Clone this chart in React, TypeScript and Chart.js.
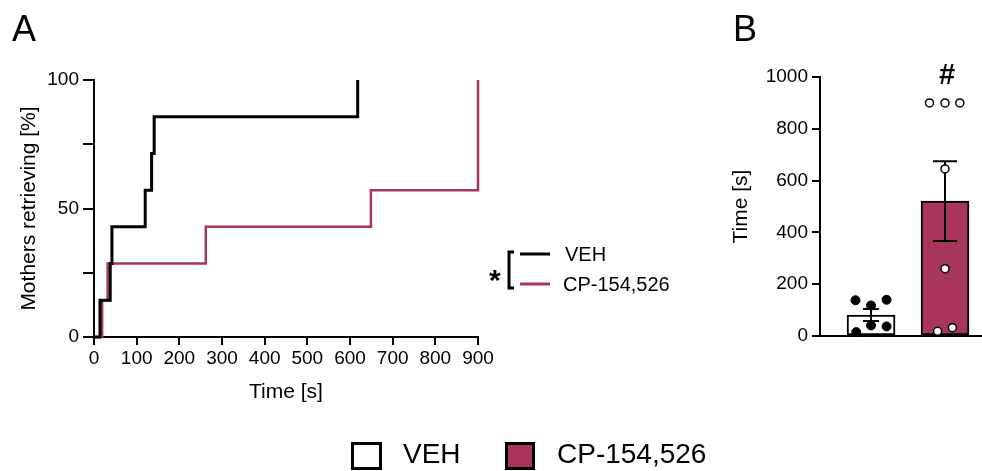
import React, { useEffect, useRef } from "react";
import { Chart, registerables } from "chart.js";

Chart.register(...registerables);

const FONT = "'Liberation Sans', Arial, Helvetica, sans-serif";
const CRIMSON = "#A8355E";

// ---------- Panel A: cumulative % of mothers retrieving ----------
const vehTimes = [0, 14, 38, 42, 120, 135, 141, 618];
const vehPercent = [0, 14.29, 28.57, 42.86, 57.14, 71.43, 85.71, 100];
const cpTimes = [0, 19, 32, 262, 649, 900];
const cpPercent = [0, 14.29, 28.57, 42.86, 57.14, 100];
const timeTicks = [0, 100, 200, 300, 400, 500, 600, 700, 800, 900];
const percentTicks = [0, 25, 50, 75, 100];
const percentLabels = ["0", "", "50", "", "100"];

// ---------- Panel B: retrieval time per group ----------
const groups = ["VEH", "CP-154,526"];
const groupMeans = [81, 521];
const groupSems = [23, 154];
const vehDotX = [-0.21, 0, 0.21, -0.2, 0, 0.21];
const vehDotY = [138, 118, 140, 15, 41, 37];
const cpDotX = [0.79, 1, 1.2, 1, 1, 0.9, 1.1];
const cpDotY = [900, 900, 900, 645, 260, 18, 32];
const timeBTicks = [0, 200, 400, 600, 800, 1000];
const timeBLabels = ["0", "200", "400", "600", "800", "1000"];

const errorBarPlugin = {
  id: "errorBars",
  afterDatasetDraw(chart: any, args: any) {
    if (args.index !== 0) return;
    const { ctx } = chart;
    const x = chart.scales.x;
    const y = chart.scales.y;
    const caps = [16, 24];
    ctx.save();
    ctx.strokeStyle = "#000";
    ctx.lineWidth = 2;
    groupMeans.forEach((m, i) => {
      const px = x.getPixelForValue(i);
      const top = y.getPixelForValue(m + groupSems[i]);
      const bot = y.getPixelForValue(m - groupSems[i]);
      const h = caps[i] / 2;
      ctx.beginPath();
      ctx.moveTo(px, top);
      ctx.lineTo(px, bot);
      ctx.moveTo(px - h, top);
      ctx.lineTo(px + h, top);
      ctx.moveTo(px - h, bot);
      ctx.lineTo(px + h, bot);
      ctx.stroke();
    });
    ctx.restore();
  },
};

export default function App() {
  const refA = useRef<HTMLCanvasElement>(null);
  const refB = useRef<HTMLCanvasElement>(null);

  useEffect(() => {
    const tickFont = { family: FONT, size: 19 };
    const titleFont = { family: FONT, size: 21 };

    const chartA = new Chart(refA.current as HTMLCanvasElement, {
      type: "line",
      data: {
        datasets: [
          {
            label: groups[0],
            data: vehTimes.map((t, i) => ({ x: t, y: vehPercent[i] })),
            borderColor: "#000",
            borderWidth: 3,
            stepped: true,
            pointRadius: 0,
            fill: false,
            clip: false as any,
          },
          {
            label: groups[1],
            data: cpTimes.map((t, i) => ({ x: t, y: cpPercent[i] })),
            borderColor: CRIMSON,
            borderWidth: 2.5,
            stepped: true,
            pointRadius: 0,
            fill: false,
            clip: false as any,
          },
        ],
      },
      options: {
        animation: false,
        responsive: false,
        layout: { autoPadding: false, padding: { left: 0, top: 80, right: 62, bottom: 0 } },
        plugins: { legend: { display: false }, tooltip: { enabled: false } },
        scales: {
          x: {
            type: "linear",
            min: 0,
            max: 900,
            afterBuildTicks: (s: any) => {
              s.ticks = timeTicks.map((v) => ({ value: v }));
            },
            grid: { drawOnChartArea: false, drawTicks: true, tickLength: 8, color: "#000", lineWidth: 2 },
            border: { color: "#000", width: 2 },
            ticks: { color: "#000", font: tickFont, padding: 2, maxRotation: 0, autoSkip: false },
            title: { display: true, text: "Time [s]", color: "#000", font: titleFont, padding: { top: 0, bottom: 15 } },
            afterFit: (s: any) => {
              s.height = 83;
            },
          },
          y: {
            type: "linear",
            min: 0,
            max: 100,
            afterBuildTicks: (s: any) => {
              s.ticks = percentTicks.map((v) => ({ value: v }));
            },
            grid: { drawOnChartArea: false, drawTicks: true, tickLength: 11, color: "#000", lineWidth: 2 },
            border: { color: "#000", width: 2 },
            ticks: {
              color: "#000",
              font: tickFont,
              padding: 4,
              autoSkip: false,
              callback: (_v: any, i: number) => percentLabels[i],
            },
            title: { display: true, text: "Mothers retrieving [%]", color: "#000", font: titleFont, padding: { top: 17, bottom: 0 } },
            afterFit: (s: any) => {
              s.width = 94;
            },
          },
        },
      },
    });

    const chartB = new Chart(refB.current as HTMLCanvasElement, {
      type: "bar",
      data: {
        datasets: [
          {
            type: "bar",
            label: "mean",
            data: groupMeans.map((m, i) => ({ x: i, y: m })) as any,
            backgroundColor: ["#ffffff", CRIMSON],
            borderColor: "#000",
            borderWidth: 2,
            borderSkipped: false,
            barThickness: 48,
            order: 2,
          } as any,
          {
            type: "scatter",
            label: groups[0],
            data: vehDotX.map((x, i) => ({ x, y: vehDotY[i] })),
            pointRadius: 4.5,
            pointBackgroundColor: "#000",
            pointBorderColor: "#000",
            pointBorderWidth: 1,
            order: 1,
            clip: false as any,
          } as any,
          {
            type: "scatter",
            label: groups[1],
            data: cpDotX.map((x, i) => ({ x, y: cpDotY[i] })),
            pointRadius: 4,
            pointBackgroundColor: "#fff",
            pointBorderColor: "#000",
            pointBorderWidth: 1.5,
            order: 1,
            clip: false as any,
          } as any,
        ],
      },
      options: {
        animation: false,
        responsive: false,
        layout: { autoPadding: false, padding: { left: 0, top: 77, right: 0, bottom: 0 } },
        plugins: { legend: { display: false }, tooltip: { enabled: false } },
        scales: {
          x: {
            type: "linear",
            min: -0.69,
            max: 1.5,
            offset: false,
            ticks: { display: false },
            grid: { display: false },
            border: { color: "#000", width: 2 },
            afterFit: (s: any) => {
              s.height = 84;
            },
          },
          y: {
            type: "linear",
            min: 0,
            max: 1000,
            afterBuildTicks: (s: any) => {
              s.ticks = timeBTicks.map((v) => ({ value: v }));
            },
            grid: { drawOnChartArea: false, drawTicks: true, tickLength: 8, color: "#000", lineWidth: 2 },
            border: { color: "#000", width: 2 },
            ticks: {
              color: "#000",
              font: tickFont,
              padding: 4,
              autoSkip: false,
              callback: (_v: any, i: number) => timeBLabels[i],
            },
            title: { display: true, text: "Time [s]", color: "#000", font: titleFont, padding: { top: 29, bottom: 0 } },
            afterFit: (s: any) => {
              s.width = 120;
            },
          },
        },
      },
      plugins: [errorBarPlugin],
    });

    return () => {
      chartA.destroy();
      chartB.destroy();
    };
  }, []);

  return (
    <div
      style={{
        position: "fixed",
        left: 0,
        top: 0,
        width: 982,
        height: 471,
        background: "#fff",
        fontFamily: FONT,
        overflow: "hidden",
      }}
    >
      <canvas ref={refA} width={540} height={420} style={{ position: "absolute", left: 0, top: 0 }} />
      <canvas ref={refB} width={282} height={420} style={{ position: "absolute", left: 700, top: 0 }} />
      <svg
        width={982}
        height={471}
        style={{ position: "absolute", left: 0, top: 0, pointerEvents: "none" }}
        fontFamily={FONT}
      >
        <text x={12} y={41} fontSize={36} fill="#000">A</text>
        <text x={733} y={41} fontSize={36} fill="#000">B</text>
        <text x={947} y={84} fontSize={29} fontWeight="bold" textAnchor="middle" fill="#000">#</text>

        <text x={489} y={290} fontSize={30} fontWeight="bold" fill="#000">*</text>
        <path d="M514 252 L509 252 L509 288 L514 288" stroke="#000" strokeWidth={3} fill="none" />
        <line x1={520} y1={254} x2={550} y2={254} stroke="#000" strokeWidth={3} />
        <line x1={520} y1={284} x2={550} y2={284} stroke={CRIMSON} strokeWidth={3} />
        <text x={565} y={261} fontSize={20} fill="#000">{groups[0]}</text>
        <text x={563} y={291} fontSize={20} fill="#000">{groups[1]}</text>

        <rect x={352.5} y={443.5} width={28} height={25} stroke="#000" strokeWidth={3} fill="#fff" />
        <text x={403} y={463} fontSize={28} fill="#000">{groups[0]}</text>
        <rect x={506.5} y={443.5} width={27} height={25} stroke="#000" strokeWidth={3} fill={CRIMSON} />
        <text x={557} y={463} fontSize={28} fill="#000">{groups[1]}</text>
      </svg>
    </div>
  );
}
